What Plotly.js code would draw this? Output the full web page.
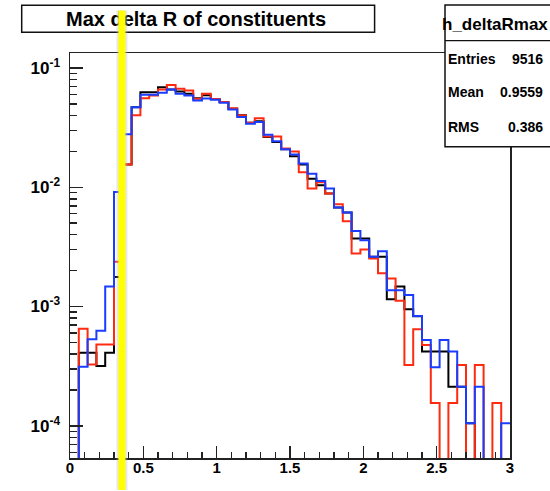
<!DOCTYPE html>
<html>
<head>
<meta charset="utf-8">
<script src="https://cdn.plot.ly/plotly-3.0.1.min.js"></script>
<style>
html,body{margin:0;padding:0;background:#ffffff;}
#chart{width:550px;height:491px;}
</style>
</head>
<body>
<div id="chart"></div>
<script>
// ---- histogram definition (ROOT TH1: 50 bins on [0, 3]) ----
const xMin = 0;
const xMax = 3;
const nBins = 50;

// normalised bin contents (bin 0 .. bin 49)
const blackVals = [0, 4.1e-4, 4.1e-4, 3.17e-4, 4.1e-4, 1.77e-3, 0.0155, 0.047, 0.0627, 0.0627,
  0.069, 0.066, 0.0636, 0.0608, 0.0558, 0.059, 0.055, 0.0518, 0.0456, 0.0401,
  0.0348, 0.0357, 0.0264, 0.024, 0.0208, 0.0182, 0.0155, 0.0118, 0.0104, 0.00885,
  0.00676, 0.00614, 0.00372, 0.00372, 0.00261, 0.00261, 0.00115, 0.00147, 0.00095, 0.00083,
  4.19e-4, 4.19e-4, 4.19e-4, 2.13e-4, 2.13e-4, 1.05e-4, 0, 0, 0, 0];
const redVals = [0, 6.5e-4, 3.27e-4, 4.8e-4, 4.8e-4, 2.37e-3, 0.0155, 0.0401, 0.0558, 0.0589,
  0.066, 0.072, 0.067, 0.0648, 0.0552, 0.061, 0.055, 0.052, 0.046, 0.040,
  0.0348, 0.038, 0.0267, 0.0267, 0.0211, 0.020, 0.0134, 0.00975, 0.011, 0.00885,
  0.00721, 0.00519, 0.00279, 0.00301, 0.00253, 0.0019, 0.00172, 0.00112, 3.24e-4, 6.45e-4,
  4.76e-4, 1.55e-4, 0, 1.55e-4, 3.24e-4, 0, 3.24e-4, 0, 1.55e-4, 0];
const blueVals = [0, 3.13e-4, 5.32e-4, 6.27e-4, 1.47e-3, 9.14e-3, 0.0278, 0.047, 0.0597, 0.0597,
  0.062, 0.066, 0.0608, 0.0589, 0.0535, 0.0555, 0.0542, 0.0512, 0.045, 0.0388,
  0.0341, 0.0352, 0.0276, 0.0243, 0.0208, 0.0188, 0.0158, 0.013, 0.0113, 0.00975,
  0.00676, 0.00614, 0.00429, 0.0036, 0.00261, 0.00291, 0.00137, 0.00137, 0.00125, 8.34e-4,
  5.25e-4, 3.1e-4, 5.25e-4, 4.19e-4, 2.13e-4, 1.05e-4, 2.13e-4, 0, 0, 1.05e-4];

const seriesColors = ['#000000', '#ff2a10', '#1a3cff'];

// y-axis decade ticks and their labels
const yTickVals = [1e-4, 1e-3, 1e-2, 1e-1];
const yTickText = ['10<sup>-4</sup>', '10<sup>-3</sup>', '10<sup>-2</sup>', '10<sup>-1</sup>'];

// vertical marker (yellow cut line)
const cutX = [0.354];

// texts
const titleText = 'Max delta R of constituents';
const statsName = 'h_deltaRmax';
const statsLabels = ['Entries', 'Mean', 'RMS'];
const statsValues = ['9516', '0.9559', '0.386'];

// ---- build traces ----
const binW = (xMax - xMin) / nBins;
const edges = [];
for (let i = 0; i <= nBins; i++) edges.push(+(xMin + i * binW).toFixed(6));
const FLOOR = 1e-7; // empty bins drawn below the frame (log scale)

function stepTrace(vals, color) {
  const y = vals.map(v => (v > 0 ? v : FLOOR));
  y.push(y[y.length - 1]);
  return {
    type: 'scatter', mode: 'lines', x: edges, y: y,
    line: {shape: 'hv', color: color, width: 2},
    hoverinfo: 'skip', showlegend: false
  };
}

const data = [
  stepTrace(blackVals, seriesColors[0]),
  stepTrace(redVals, seriesColors[1]),
  stepTrace(blueVals, seriesColors[2])
];

const FONT = 'Liberation Sans, Arial, Helvetica, sans-serif';
const xTickFont = {family: FONT, size: 15, color: '#000', weight: 'bold'};
const yTickFont = {family: FONT, size: 17, color: '#000', weight: 'bold'};
const axCol = '#222';

// plot area: 70..510 px horizontally, 53..458 px vertically
const H = 405, B = 458;
function py(p) { return (B - p) / H; }
function px(p) { return (p - 70) / 440; }

const statsY = [59, 91.5, 127.5];

const annotations = [
  {xref: 'paper', yref: 'paper', x: px(196), y: py(19.3), xanchor: 'center', yanchor: 'middle',
   text: titleText, showarrow: false, font: {family: FONT, size: 20, color: '#000', weight: 'bold'}},
  {xref: 'paper', yref: 'paper', x: px(495), y: py(24), xanchor: 'center', yanchor: 'middle',
   text: statsName, showarrow: false, font: {family: FONT, size: 17, color: '#000', weight: 'bold'}}
];
statsLabels.forEach((lab, i) => {
  annotations.push({xref: 'paper', yref: 'paper', x: px(446), y: py(statsY[i]), xanchor: 'left', yanchor: 'middle',
    text: lab, showarrow: false, font: {family: FONT, size: 14, color: '#000', weight: 'bold'}});
  annotations.push({xref: 'paper', yref: 'paper', x: px(545), y: py(statsY[i]), xanchor: 'right', yanchor: 'middle',
    text: statsValues[i], showarrow: false, font: {family: FONT, size: 14, color: '#000', weight: 'bold'}});
});
// yellow cut line (halo + line), drawn last so it sits on top of the title box
annotations.push({xref: 'x', yref: 'paper', x: cutX[0], y: py(491), ax: 0, ay: -482, axref: 'pixel', ayref: 'pixel',
  text: '', showarrow: true, arrowhead: 0, arrowwidth: 11, arrowcolor: 'rgba(190,190,190,0.35)', standoff: 0, startstandoff: 0});
annotations.push({xref: 'x', yref: 'paper', x: cutX[0], y: py(491), ax: 0, ay: -482, axref: 'pixel', ayref: 'pixel',
  text: '', showarrow: true, arrowhead: 0, arrowwidth: 7, arrowcolor: '#ffff00', standoff: 0, startstandoff: 0});

const shapes = [
  // title box
  {type: 'rect', xref: 'paper', yref: 'paper', x0: px(21.7), x1: px(374.6), y0: py(32.3), y1: py(5.3),
   line: {color: '#111', width: 1.5}, fillcolor: '#ffffff', layer: 'above'},
  // stats box
  {type: 'rect', xref: 'paper', yref: 'paper', x0: px(445), x1: px(560), y0: py(146.7), y1: py(5),
   line: {color: '#111', width: 1.5}, fillcolor: '#ffffff', layer: 'above'},
  {type: 'line', xref: 'paper', yref: 'paper', x0: px(445), x1: px(560), y0: py(40.7), y1: py(40.7),
   line: {color: '#111', width: 1.2}, layer: 'above'}
];

const layout = {
  width: 550, height: 491,
  margin: {l: 70, r: 40, t: 53, b: 33, pad: 0},
  paper_bgcolor: '#ffffff', plot_bgcolor: '#ffffff',
  showlegend: false,
  xaxis: {
    range: [xMin, xMax], tick0: 0, dtick: 0.5,
    ticks: 'inside', ticklen: 12, tickwidth: 1.5, tickcolor: axCol,
    showgrid: false, zeroline: false,
    showline: true, linecolor: axCol, linewidth: 1.5, mirror: true,
    tickfont: xTickFont, ticklabelstandoff: -5,
    minor: {dtick: 0.1, ticks: 'inside', ticklen: 6, tickwidth: 1.5, tickcolor: axCol, showgrid: false}
  },
  yaxis: {
    type: 'log', range: [-4.27, -0.874],
    tickmode: 'array', tickvals: yTickVals, ticktext: yTickText,
    ticks: 'inside', ticklen: 13, tickwidth: 1.5, tickcolor: axCol,
    showgrid: false, zeroline: false,
    showline: true, linecolor: axCol, linewidth: 1.5, mirror: true,
    tickfont: yTickFont, ticklabelstandoff: 5,
    minor: {dtick: 'D1', ticks: 'inside', ticklen: 7, tickwidth: 1.5, tickcolor: axCol, showgrid: false}
  },
  shapes: shapes,
  annotations: annotations
};

Plotly.newPlot('chart', data, layout, {staticPlot: true, displayModeBar: false});
</script>
</body>
</html>
